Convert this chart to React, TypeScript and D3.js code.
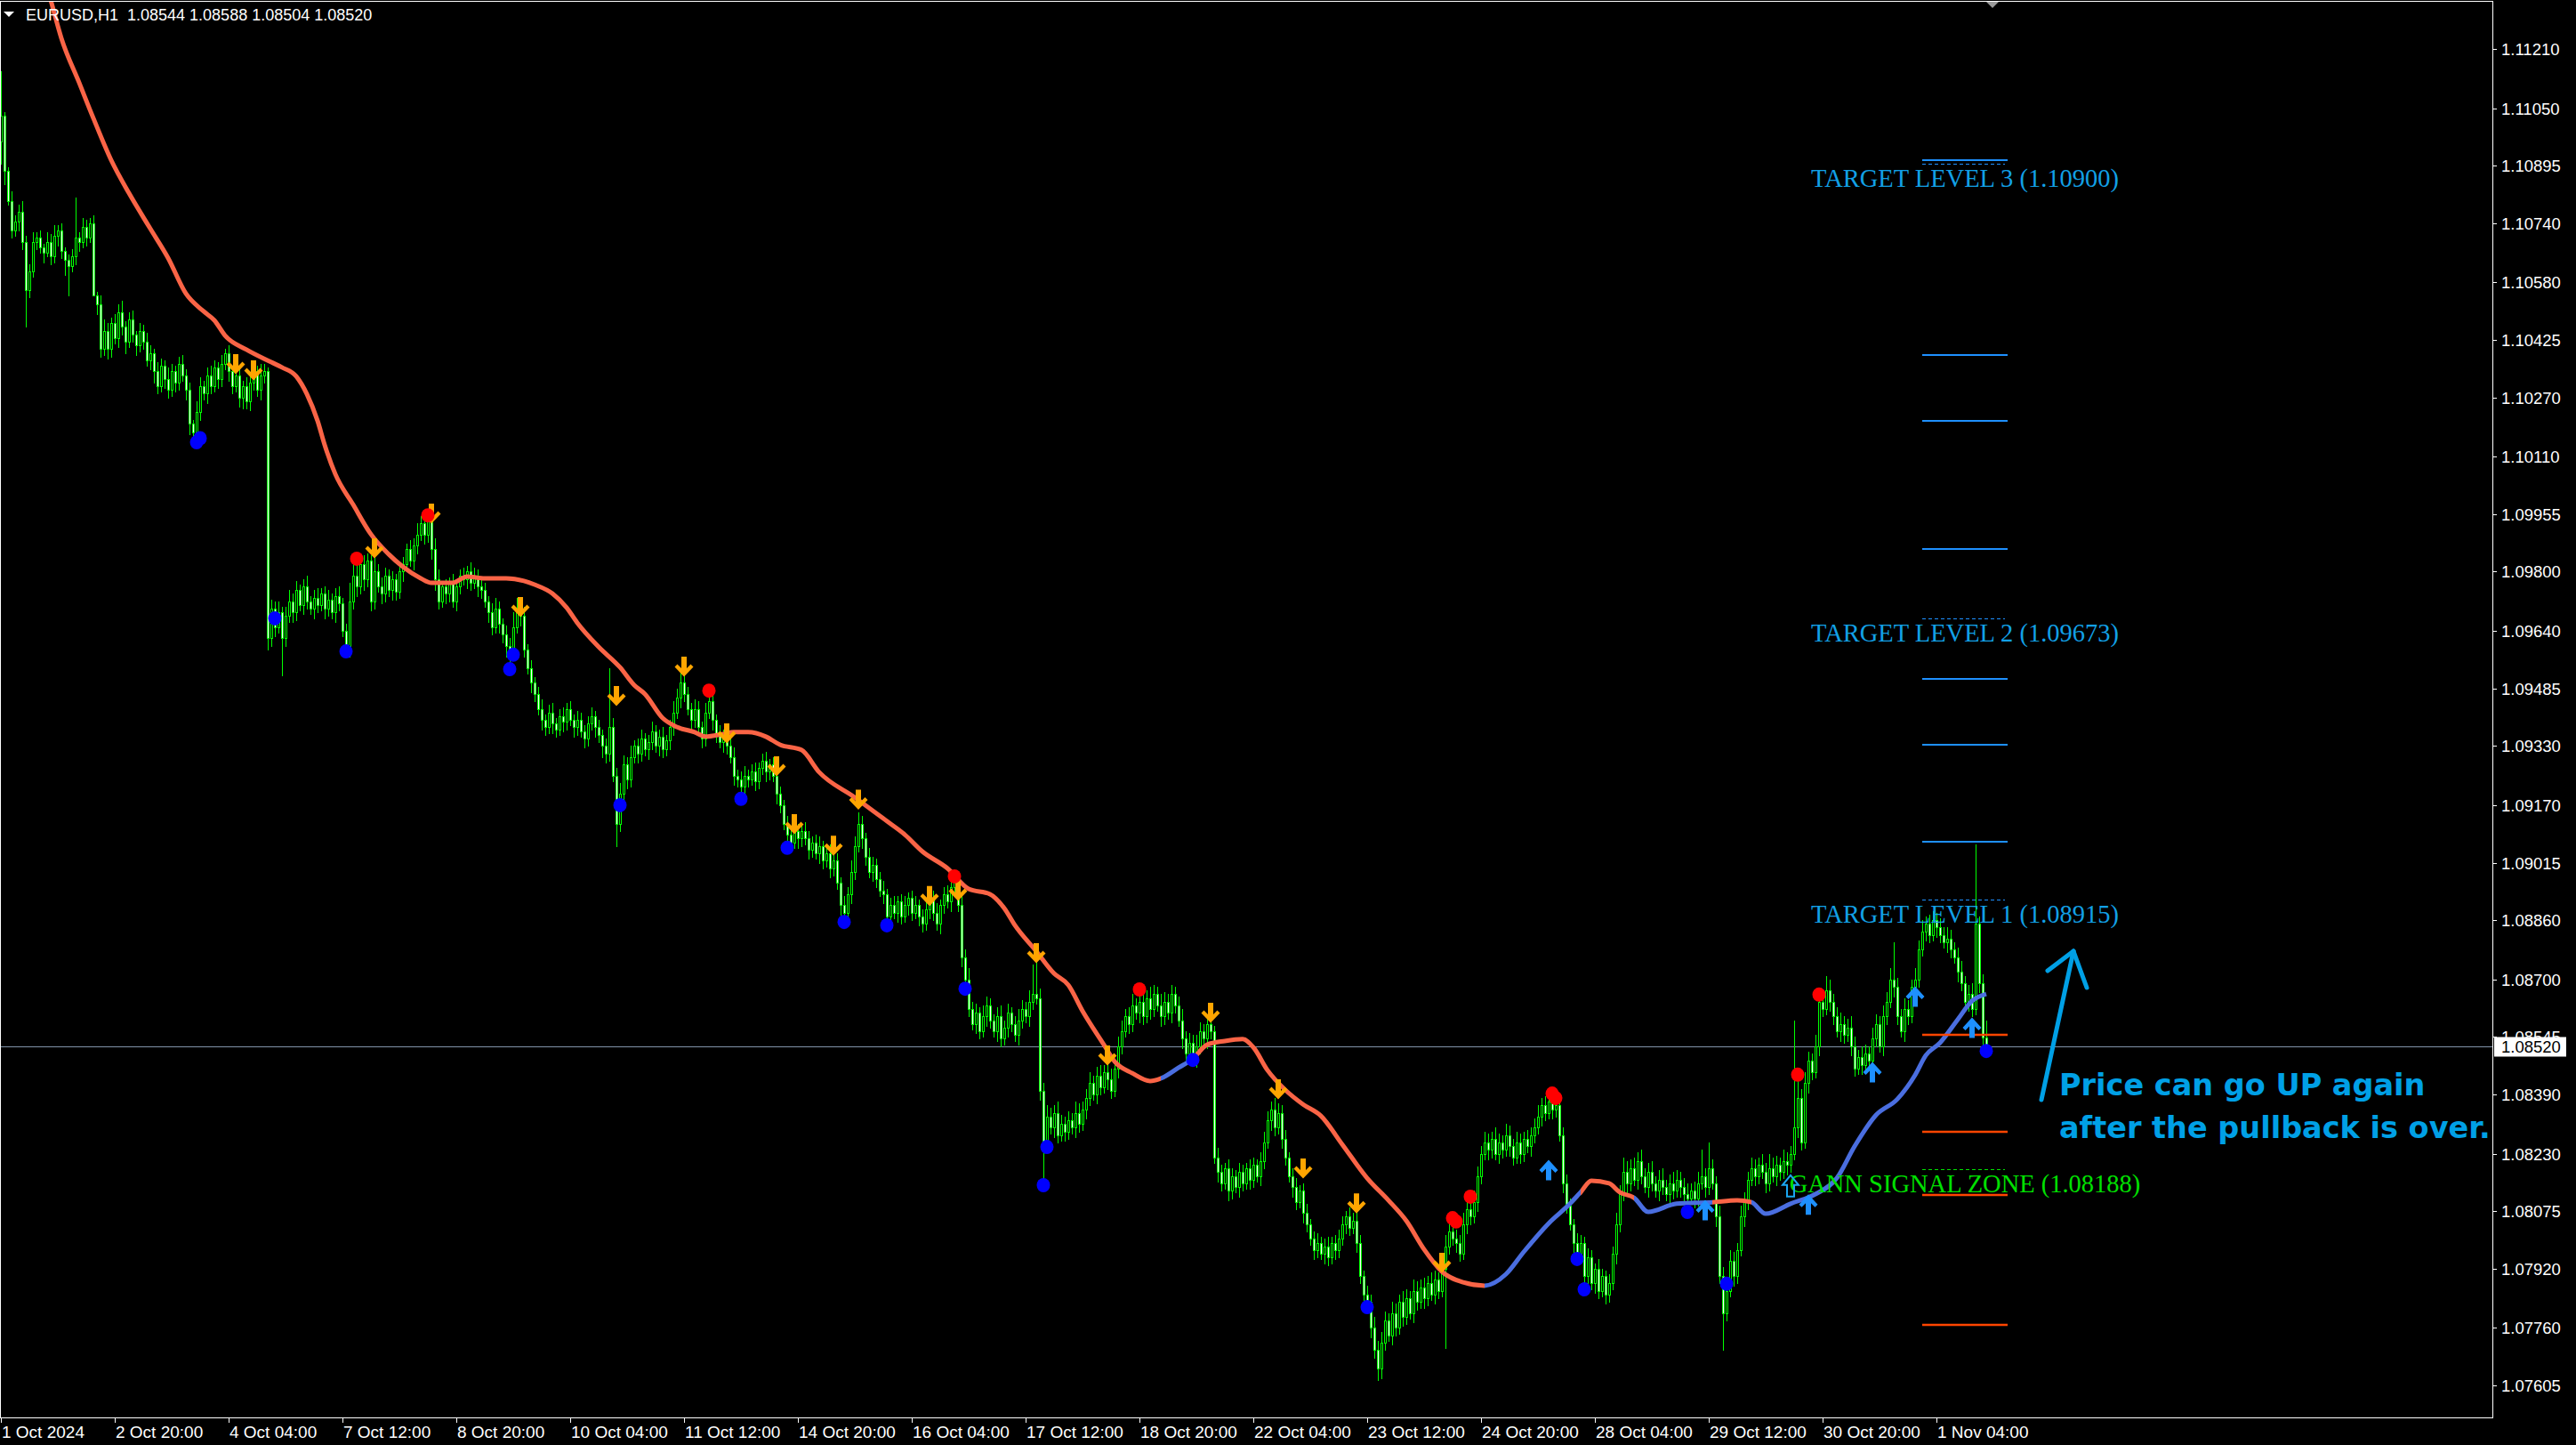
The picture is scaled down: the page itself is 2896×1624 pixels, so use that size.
import React from "react";
import * as d3 from "d3";

// ---------- DATA (prices in points: 1e-5 above 1.00000) ----------
const symbolLabel = "EURUSD,H1";
const firstOpen = 10960;
const closePts = [
  11030, 10880, 10800, 10720, 10745, 10770, 10690, 10560, 10610, 10690,
  10700, 10675, 10660, 10690, 10650, 10705, 10720, 10665, 10640, 10625,
  10650, 10700, 10690, 10730, 10700, 10740, 10545, 10520, 10400, 10450,
  10400, 10470, 10430, 10500, 10460, 10420, 10480, 10440, 10410, 10450,
  10420, 10370, 10390, 10340, 10300, 10355, 10320, 10290, 10340, 10310,
  10360, 10330, 10290, 10200, 10175, 10230, 10300, 10280, 10330, 10300,
  10350, 10320, 10360, 10390, 10340, 10300, 10330, 10270, 10300, 10260,
  10310, 10340, 10290, 10330, 10340, 9620, 9700, 9650, 9690, 9620,
  9680, 9720, 9690, 9750, 9710, 9760, 9720, 9700, 9730, 9710,
  9740, 9700, 9725, 9690, 9735, 9715, 9640, 9600, 9720, 9790,
  9760, 9820, 9780, 9830, 9720, 9800, 9760, 9740, 9790, 9750,
  9780, 9745, 9800, 9820, 9860, 9830, 9870, 9900, 9930, 9900,
  9940, 9860, 9780, 9720, 9760, 9740, 9770, 9720, 9760, 9790,
  9780, 9800, 9770, 9790, 9760, 9750, 9720, 9690, 9650, 9700,
  9660, 9630, 9600, 9580, 9650, 9700, 9680, 9590, 9540, 9500,
  9470, 9430, 9400, 9380, 9420, 9390, 9375, 9410, 9395, 9430,
  9400, 9380, 9400, 9370, 9350, 9390, 9410, 9380, 9360, 9330,
  9310, 9380, 9250, 9120, 9200, 9280, 9240, 9300, 9330, 9310,
  9350, 9320, 9340, 9370, 9330, 9355, 9320, 9345, 9380, 9420,
  9460, 9500, 9470, 9430, 9400, 9430, 9380, 9350, 9420, 9450,
  9400, 9360, 9340, 9355, 9330, 9300, 9250, 9240, 9220, 9250,
  9240, 9260, 9235, 9270, 9290, 9260, 9280, 9250, 9200, 9170,
  9120, 9090, 9070, 9100, 9080, 9100, 9080, 9050, 9070, 9040,
  9060, 9020, 9040, 9000, 9020, 8960, 8900, 8880, 8930, 8990,
  9060, 9120, 9080, 9030, 8990, 9010, 8970, 8940, 8930, 8870,
  8900, 8880, 8910, 8870, 8900, 8920, 8880, 8900, 8870, 8850,
  8890, 8920, 8880, 8850, 8900, 8930, 8910, 8950, 8960, 8900,
  8760, 8700, 8620, 8580, 8610, 8560, 8600, 8630, 8590, 8560,
  8600, 8540, 8570, 8610, 8580, 8550, 8590, 8620, 8600, 8640,
  8660, 8650, 8400, 8260, 8330, 8300, 8340, 8280, 8310, 8290,
  8320, 8300, 8340, 8310, 8350, 8380, 8420, 8390, 8440, 8410,
  8450, 8430, 8400, 8460, 8520, 8560, 8600, 8580, 8630, 8610,
  8640, 8600, 8650, 8620, 8660, 8630, 8600, 8640, 8610, 8660,
  8630, 8590, 8540, 8500, 8530, 8490, 8520, 8560, 8540, 8580,
  8560, 8220, 8180, 8150, 8190, 8130, 8170, 8140, 8180, 8150,
  8190, 8160, 8200, 8170, 8210, 8260, 8320, 8350, 8300, 8340,
  8270, 8220, 8170, 8140, 8100, 8130, 8070, 8040, 8000, 7970,
  7990, 7960, 7980, 7950, 7990, 7970, 8000, 8040, 8060, 8030,
  8050, 7990, 7900, 7850, 7830, 7760, 7700, 7650, 7720, 7780,
  7740, 7800, 7760, 7830, 7790, 7840, 7800, 7860, 7830, 7870,
  7840, 7880, 7850, 7890, 7860, 7920, 7980, 8020, 8000, 7990,
  7960, 8040, 8080, 8060, 8100, 8170, 8230, 8260, 8240, 8270,
  8230, 8260, 8240, 8280, 8250, 8220, 8260, 8230, 8270, 8250,
  8280, 8300, 8330, 8360, 8340, 8370, 8350, 8360, 8280, 8150,
  8090, 8040, 7990, 7960, 7990, 7900, 7950, 7880, 7920, 7860,
  7900, 7850, 7880, 7960, 8040, 8120, 8180, 8150, 8190, 8160,
  8210, 8170, 8140, 8180, 8150, 8130, 8160, 8140, 8120, 8150,
  8130, 8160, 8140, 8120, 8110, 8130, 8110, 8150, 8170, 8140,
  8190, 8150, 8060, 7900, 7800, 7860, 7940, 7900, 7970, 8060,
  8100, 8160, 8190, 8170, 8200, 8180, 8150, 8190, 8170, 8200,
  8180, 8210, 8200, 8230, 8300, 8380, 8260, 8420, 8480, 8450,
  8520, 8640, 8620, 8670, 8640, 8600, 8560, 8580, 8550, 8570,
  8520, 8460, 8490, 8470, 8500, 8480, 8540, 8580, 8520, 8600,
  8640, 8700, 8680, 8600, 8560, 8620, 8600, 8680, 8700, 8780,
  8830, 8850, 8820, 8860, 8840, 8820, 8800, 8810, 8780, 8760,
  8720, 8690, 8640, 8660, 8620, 8850, 8690, 8544, 8520,
];
const upWick = [
  120, 10, 10, 25, 15, 20, 30, 15, 20, 25,
  15, 20, 10, 25, 20, 30, 15, 20, 10, 15,
  20, 110, 15, 25, 20, 15, 20, 10, 25, 30,
  20, 15, 25, 20, 30, 15, 20, 25, 10, 20,
  15, 25, 20, 10, 25, 20, 15, 30, 20, 15,
  20, 25, 15, 20, 10, 30, 25, 15, 20, 25,
  20, 15, 25, 10, 20, 15, 30, 20, 15, 25,
  20, 25, 15, 30, 20, 10, 25, 20, 30, 15,
  25, 30, 20, 25, 15, 20, 30, 15, 20, 25,
  15, 20, 25, 15, 20, 25, 15, 20, 50, 40,
  60, 30, 25, 20, 15, 40, 20, 25, 20, 15,
  20, 15, 25, 20, 15, 25, 20, 30, 20, 25,
  15, 20, 30, 25, 15, 20, 15, 25, 20, 15,
  20, 15, 25, 20, 15, 25, 20, 15, 25, 30,
  20, 15, 25, 20, 40, 30, 20, 25, 15, 20,
  15, 20, 25, 15, 20, 25, 15, 20, 25, 15,
  20, 15, 25, 20, 15, 20, 25, 15, 20, 15,
  20, 160, 25, 20, 30, 25, 20, 30, 15, 20,
  25, 15, 20, 25, 15, 20, 25, 15, 20, 30,
  25, 40, 30, 20, 15, 25, 20, 15, 25, 25,
  20, 15, 25, 20, 15, 20, 25, 15, 20, 25,
  15, 20, 25, 15, 20, 25, 15, 20, 25, 20,
  15, 20, 25, 15, 20, 15, 25, 20, 15, 20,
  25, 15, 20, 25, 15, 20, 15, 25, 20, 30,
  25, 30, 20, 15, 25, 20, 15, 20, 25, 15,
  20, 25, 15, 20, 25, 15, 20, 25, 15, 20,
  25, 15, 20, 25, 15, 20, 25, 15, 18, 20,
  25, 20, 30, 20, 25, 15, 30, 25, 20, 15,
  25, 30, 20, 25, 15, 20, 30, 25, 20, 30,
  80, 90, 25, 20, 30, 25, 20, 30, 25, 20,
  25, 20, 30, 25, 20, 25, 30, 20, 25, 30,
  20, 25, 30, 20, 25, 30, 20, 25, 30, 20,
  30, 25, 20, 30, 25, 20, 30, 25, 20, 25,
  20, 25, 30, 20, 25, 20, 30, 25, 20, 25,
  20, 15, 25, 20, 15, 25, 20, 15, 25, 20,
  15, 25, 20, 15, 25, 30, 25, 20, 30, 25,
  20, 25, 15, 20, 25, 15, 20, 25, 15, 20,
  25, 15, 20, 25, 15, 20, 25, 20, 15, 25,
  20, 25, 20, 15, 25, 20, 30, 25, 30, 25,
  20, 30, 25, 20, 30, 25, 20, 30, 25, 20,
  25, 20, 30, 25, 20, 40, 30, 25, 30, 25,
  20, 30, 25, 20, 30, 25, 20, 30, 25, 20,
  30, 25, 20, 30, 25, 20, 30, 25, 20, 25,
  20, 25, 30, 20, 25, 20, 30, 20, 25, 20,
  25, 20, 15, 25, 20, 15, 25, 20, 15, 25,
  20, 15, 25, 20, 30, 25, 40, 30, 25, 30,
  25, 30, 20, 25, 30, 20, 25, 30, 20, 25,
  30, 25, 20, 25, 30, 20, 25, 30, 70, 20,
  70, 25, 20, 30, 25, 20, 30, 25, 20, 30,
  25, 20, 30, 25, 20, 30, 25, 40, 30, 25,
  20, 30, 25, 20, 290, 60, 25, 30, 25, 20,
  30, 20, 25, 40, 30, 20, 25, 30, 20, 25,
  30, 25, 20, 30, 25, 20, 30, 25, 20, 30,
  25, 30, 100, 25, 20, 30, 25, 20, 30, 25,
  30, 20, 25, 25, 20, 25, 20, 30, 25, 20,
  25, 30, 20, 25, 30, 214, 20, 25, 44,
];
const downWick = [
  60, 35, 10, 20, 15, 25, 20, 100, 20, 15,
  20, 15, 25, 10, 20, 15, 25, 20, 40, 80,
  15, 20, 25, 15, 20, 10, 0, 25, 20, 15,
  25, 20, 15, 25, 20, 30, 15, 20, 25, 15,
  20, 15, 25, 30, 20, 15, 25, 20, 15, 25,
  20, 15, 25, 30, 20, 25, 20, 15, 25, 20,
  15, 25, 20, 15, 25, 20, 15, 25, 30, 20,
  25, 20, 15, 25, 20, 30, 20, 25, 15, 100,
  20, 15, 25, 20, 15, 25, 20, 15, 25, 20,
  15, 25, 20, 15, 25, 20, 15, 15, 30, 20,
  25, 20, 30, 20, 25, 20, 15, 25, 20, 15,
  25, 20, 15, 25, 20, 15, 25, 20, 15, 25,
  20, 25, 30, 20, 15, 25, 20, 15, 25, 20,
  15, 25, 20, 15, 25, 20, 15, 25, 20, 15,
  25, 20, 30, 40, 20, 15, 25, 20, 15, 25,
  20, 15, 25, 20, 15, 25, 20, 15, 25, 20,
  15, 25, 20, 15, 25, 20, 15, 25, 20, 30,
  25, 20, 15, 60, 20, 30, 25, 20, 15, 25,
  20, 15, 25, 20, 15, 25, 20, 15, 25, 20,
  15, 25, 20, 15, 25, 20, 15, 25, 20, 15,
  25, 20, 15, 25, 20, 15, 25, 20, 15, 25,
  20, 15, 25, 20, 15, 25, 20, 15, 25, 20,
  15, 25, 20, 15, 25, 20, 15, 25, 20, 15,
  25, 20, 15, 25, 20, 15, 25, 20, 15, 25,
  20, 15, 25, 20, 15, 25, 20, 15, 25, 25,
  20, 15, 25, 20, 15, 25, 20, 15, 25, 20,
  15, 25, 20, 15, 25, 20, 15, 25, 20, 15,
  25, 25, 20, 15, 25, 20, 15, 25, 20, 15,
  25, 20, 15, 25, 20, 15, 25, 20, 15, 25,
  20, 15, 25, 110, 20, 15, 25, 20, 15, 25,
  20, 15, 25, 20, 15, 25, 20, 15, 25, 20,
  15, 25, 20, 15, 25, 20, 15, 25, 20, 15,
  25, 20, 15, 25, 20, 15, 25, 20, 15, 25,
  20, 15, 25, 20, 15, 10, 25, 20, 15, 25,
  20, 15, 25, 20, 15, 25, 20, 15, 25, 20,
  15, 25, 20, 15, 25, 20, 15, 25, 20, 15,
  25, 20, 15, 25, 20, 15, 25, 20, 15, 25,
  20, 15, 25, 20, 15, 25, 20, 15, 25, 20,
  15, 25, 20, 15, 20, 25, 20, 30, 25, 20,
  15, 25, 20, 15, 25, 20, 15, 25, 20, 15,
  25, 20, 15, 25, 20, 15, 214, 20, 15, 25,
  20, 15, 25, 20, 15, 25, 20, 15, 25, 20,
  15, 25, 20, 15, 25, 20, 15, 25, 20, 15,
  25, 20, 15, 25, 20, 15, 25, 20, 15, 25,
  20, 15, 25, 15, 20, 40, 20, 15, 25, 20,
  15, 25, 20, 15, 25, 20, 15, 25, 20, 15,
  25, 20, 15, 25, 20, 15, 25, 20, 15, 25,
  20, 15, 25, 20, 30, 15, 25, 20, 15, 25,
  20, 15, 25, 20, 100, 20, 15, 25, 20, 15,
  25, 20, 15, 25, 20, 15, 25, 20, 15, 25,
  20, 15, 25, 20, 15, 25, 20, 15, 25, 20,
  15, 25, 20, 15, 25, 20, 15, 25, 20, 15,
  25, 20, 15, 25, 20, 15, 25, 20, 15, 25,
  20, 15, 25, 20, 15, 25, 20, 15, 25, 20,
  15, 25, 20, 15, 25, 20, 15, 25, 20, 15,
  25, 20, 15, 25, 20, 15, 25, 20, 16,
];

// Trend line (bar index, price points)
const maBars = [10, 14, 17, 22, 26, 31, 36, 42, 47, 52, 57, 60, 63, 69, 76, 79, 83, 86, 89, 91, 94, 99, 104, 109, 113, 118, 121, 127, 131, 136, 142, 147, 150, 155, 159, 162, 168, 174, 178, 181, 186, 190, 195, 198, 203, 206, 210, 215, 219, 225, 230, 240, 249, 254, 259, 266, 272, 278, 282, 285, 291, 296, 300, 304, 310, 313, 318, 323, 326, 331, 335, 339, 344, 349, 352, 356, 361, 366, 371, 377, 384, 390, 395, 400, 405, 411, 417, 423, 428, 435, 441, 444, 447, 452, 455, 459, 463, 471, 481, 488, 492, 496, 503, 510, 516, 521, 527, 533, 538, 541, 545, 550, 554, 558];
const maValues = [11476, 11342, 11239, 11119, 11023, 10910, 10821, 10725, 10646, 10550, 10502, 10478, 10437, 10399, 10365, 10351, 10327, 10279, 10207, 10142, 10063, 9981, 9901, 9847, 9813, 9782, 9770, 9770, 9787, 9782, 9782, 9775, 9765, 9741, 9703, 9662, 9597, 9542, 9494, 9470, 9405, 9381, 9367, 9355, 9362, 9367, 9367, 9355, 9333, 9319, 9259, 9191, 9127, 9091, 9045, 9000, 8944, 8930, 8892, 8846, 8776, 8716, 8685, 8615, 8524, 8479, 8447, 8426, 8433, 8462, 8486, 8524, 8534, 8539, 8517, 8455, 8402, 8363, 8332, 8255, 8164, 8104, 8049, 7972, 7912, 7883, 7874, 7905, 7965, 8042, 8095, 8126, 8157, 8150, 8126, 8111, 8073, 8095, 8099, 8104, 8099, 8068, 8095, 8121, 8164, 8250, 8334, 8377, 8442, 8495, 8529, 8592, 8642, 8661];
// trend switches: [fromBar, toBar, direction]
const maTrend: [number, number, string][] = [
  [0, 326, "down"], [326, 335, "up"], [335, 417, "down"], [417, 444, "up"],
  [444, 459, "down"], [459, 481, "up"], [481, 492, "down"], [492, 560, "up"],
];

// signal markers: bar index + price points
const sellArrowBars = [66, 71, 105, 121, 146, 173, 192, 204, 218, 223, 234, 241, 261, 269, 291, 311, 340, 359, 366, 381, 405];
const sellArrowPrices = [10358, 10341, 9861, 9955, 9703, 9463, 9542, 9362, 9273, 9117, 9059, 9183, 8923, 8937, 8769, 8493, 8608, 8402, 8188, 8094, 7934];
const buyArrowBars = [435, 479, 508, 526, 538, 554];
const buyArrowPrices = [8188, 8080, 8095, 8452, 8656, 8572];
const hollowArrowBars = [503];
const hollowArrowPrices = [8143];
const redDotBars = [100, 120, 199, 268, 320, 408, 409, 413, 436, 437, 505, 511];
const redDotPrices = [9835, 9952, 9479, 8978, 8673, 8056, 8047, 8114, 8392, 8380, 8443, 8659];
const blueDotBars = [55, 56, 77, 97, 143, 144, 174, 208, 221, 237, 249, 271, 293, 294, 335, 384, 443, 445, 474, 485, 558];
const blueDotPrices = [10149, 10160, 9674, 9585, 9537, 9576, 9170, 9187, 9055, 8855, 8846, 8675, 8145, 8248, 8483, 7816, 7946, 7864, 8073, 7879, 8507];

// Gann levels
const blueLevelPrices = [10910, 10384, 10207, 9861, 9511, 9333, 9071];
const redLevelPrices = [8551, 8289, 8119, 7768];
const targetNames = ["TARGET LEVEL 3", "TARGET LEVEL 2", "TARGET LEVEL 1", "GANN SIGNAL ZONE"];
const targetPrices = [10900, 9673, 8915, 8188];
const levelFromBar = 540;
const levelToBar = 564;

// axes
const yTickLabels = ["1.11210", "1.11050", "1.10895", "1.10740", "1.10580", "1.10425", "1.10270", "1.10110", "1.09955", "1.09800", "1.09640", "1.09485", "1.09330", "1.09170", "1.09015", "1.08860", "1.08700", "1.08545", "1.08390", "1.08230", "1.08075", "1.07920", "1.07760", "1.07605"];
const xTickLabels = ["1 Oct 2024", "2 Oct 20:00", "4 Oct 04:00", "7 Oct 12:00", "8 Oct 20:00", "10 Oct 04:00", "11 Oct 12:00", "14 Oct 20:00", "16 Oct 04:00", "17 Oct 12:00", "18 Oct 20:00", "22 Oct 04:00", "23 Oct 12:00", "24 Oct 20:00", "28 Oct 04:00", "29 Oct 12:00", "30 Oct 20:00", "1 Nov 04:00"];
const barsPerXTick = 32;
const noteLines = ["Price can go UP again", "after the pullback is over."];

// ---------- RENDER ----------
const W = 2896;
const H = 1624;
const PR = 2802; // plot right
const PB = 1593; // plot bottom
const LIME = "#00ff00";
const UIFONT = "'Liberation Sans', Arial, sans-serif";

const fmt = (p: number) => (1 + p / 1e5).toFixed(5);

const downArrowPath = "M-3,-12 H3 V1 L7.5,-3.5 L10.5,-0.5 L0,10.5 L-10.5,-0.5 L-7.5,-3.5 L-3,1 Z";
const upArrowPath = "M-3,12.5 H3 V-0.5 L7.5,4 L10.5,1 L0,-10.5 L-10.5,1 L-7.5,4 L-3,-0.5 Z";
const hollowUpPath = "M0,-12 L9,-1 L4,-1 L4,12 L-4,12 L-4,-1 L-9,-1 Z";

export default function App() {
  const x = d3.scaleLinear().domain([0, 700]).range([1, 2801]);
  const y = d3.scaleLinear().domain([7605, 11210]).range([1557, 55]);

  const bars = closePts.map((c, i) => {
    const o = i === 0 ? firstOpen : closePts[i - 1];
    const h = Math.max(o, c) + (upWick[i] ?? 15);
    const l = Math.min(o, c) - (downWick[i] ?? 15);
    return { i, o, h, l, c };
  });
  const last = bars[bars.length - 1];

  const maPts: [number, number][] = maBars.map((b, k) => [b, maValues[k]]);
  const line = d3
    .line<[number, number]>()
    .x((d) => x(d[0]))
    .y((d) => y(d[1]))
    .curve(d3.curveMonotoneX);
  const maPath = line(maPts) || "";

  const lx1 = x(levelFromBar);
  const lx2 = x(levelToBar);
  const lxm = (lx1 + lx2) / 2;
  const yCur = Math.round(y(last.c)) + 0.5;

  return (
    <svg
      width={W}
      height={H}
      style={{ position: "absolute", left: 0, top: 0, display: "block" }}
      xmlns="http://www.w3.org/2000/svg"
    >
      <defs>
        <clipPath id="plot">
          <rect x={1} y={2} width={PR - 1} height={PB - 2} />
        </clipPath>
        {maTrend.map((s, k) => (
          <clipPath id={`seg${k}`} key={k}>
            <rect x={x(s[0])} y={0} width={x(s[1]) - x(s[0])} height={H} />
          </clipPath>
        ))}
      </defs>
      <rect x={0} y={0} width={W} height={H} fill="#000" />

      {/* current price line */}
      <line x1={1} x2={PR} y1={yCur} y2={yCur} stroke="#8193a8" strokeWidth={1} />

      <g clipPath="url(#plot)" shapeRendering="crispEdges">
        {bars.map((b) => {
          const cx = Math.round(x(b.i));
          const yo = Math.round(y(b.o));
          const yc = Math.round(y(b.c));
          const top = Math.min(yo, yc);
          const bot = Math.max(yo, yc);
          return (
            <g key={b.i}>
              <line x1={cx + 0.5} x2={cx + 0.5} y1={Math.round(y(b.h))} y2={Math.round(y(b.l)) + 1} stroke={LIME} strokeWidth={1} />
              {bot - top >= 1 ? (
                <rect x={cx - 0.5} y={top + 0.5} width={2} height={bot - top} fill={b.c < b.o ? "#ffffff" : "#000000"} stroke={LIME} strokeWidth={1} />
              ) : (
                <line x1={cx - 1} x2={cx + 2} y1={top + 0.5} y2={top + 0.5} stroke={LIME} strokeWidth={1} />
              )}
            </g>
          );
        })}
      </g>

      {/* trend line */}
      <g clipPath="url(#plot)">
        {maTrend.map((s, k) => (
          <g key={k} clipPath={`url(#seg${k})`}>
            <path d={maPath} fill="none" stroke={s[2] === "down" ? "#fa6446" : "#4a6ee0"} strokeWidth={5} strokeLinejoin="round" />
          </g>
        ))}
      </g>

      {/* level lines */}
      {blueLevelPrices.map((p, k) => (
        <line key={`bl${k}`} x1={lx1} x2={lx2} y1={Math.round(y(p))} y2={Math.round(y(p))} stroke="#1e90ff" strokeWidth={2} />
      ))}
      {redLevelPrices.map((p, k) => (
        <line key={`rl${k}`} x1={lx1} x2={lx2} y1={Math.round(y(p))} y2={Math.round(y(p))} stroke="#ff4500" strokeWidth={2.5} />
      ))}
      {targetPrices.map((p, k) => {
        const isZone = k === targetPrices.length - 1;
        const col = isZone ? "#00e000" : "#12a0e6";
        const yy = Math.round(y(p)) + 0.5;
        return (
          <g key={`tl${k}`}>
            <line x1={lx1} x2={lx2 - 3} y1={yy} y2={yy} stroke={isZone ? "#00e000" : "#1e90ff"} strokeWidth={1} strokeDasharray="4 3" />
            <text x={lxm} y={yy + 25} fill={col} fontFamily="'Liberation Serif', 'Times New Roman', serif" fontSize={28.5} textAnchor="middle">
              {`${targetNames[k]} (${fmt(p)})`}
            </text>
          </g>
        );
      })}

      {/* markers */}
      <g clipPath="url(#plot)">
        {sellArrowBars.map((b, k) => (
          <path key={`sa${k}`} d={downArrowPath} transform={`translate(${x(b)},${y(sellArrowPrices[k])})`} fill="#ffa500" />
        ))}
        {buyArrowBars.map((b, k) => (
          <path key={`ba${k}`} d={upArrowPath} transform={`translate(${x(b)},${y(buyArrowPrices[k])})`} fill="#1e90ff" />
        ))}
        {hollowArrowBars.map((b, k) => (
          <path key={`ha${k}`} d={hollowUpPath} transform={`translate(${x(b)},${y(hollowArrowPrices[k])})`} fill="none" stroke="#1aa6f0" strokeWidth={2} />
        ))}
        {redDotBars.map((b, k) => (
          <ellipse key={`rd${k}`} cx={x(b)} cy={y(redDotPrices[k])} rx={7.5} ry={8} fill="#ff0000" />
        ))}
        {blueDotBars.map((b, k) => (
          <ellipse key={`bd${k}`} cx={x(b)} cy={y(blueDotPrices[k])} rx={7.5} ry={8} fill="#0000ff" />
        ))}
      </g>

      {/* annotation */}
      <g stroke="#00a0e6" strokeWidth={5} strokeLinecap="round" fill="none">
        <line x1={2295} y1={1236} x2={2331} y2={1069} />
        <line x1={2331} y1={1069} x2={2302} y2={1091} />
        <line x1={2331} y1={1069} x2={2346} y2={1110} />
      </g>
      {noteLines.map((t, k) => (
        <text key={`n${k}`} x={2315} y={1231 + k * 48} fill="#00a0e6" fontFamily="'DejaVu Sans', Verdana, sans-serif" fontWeight="bold" fontSize={33.5}>
          {t}
        </text>
      ))}

      {/* frame */}
      <rect x={0.5} y={1.5} width={PR} height={PB - 1} fill="none" stroke="#ffffff" strokeWidth={1} shapeRendering="crispEdges" />
      <path d="M2233,2 L2247,2 L2240,9 Z" fill="#9a9a9a" />

      {/* y axis */}
      {yTickLabels.map((s, k) => {
        const yy = Math.round(y(Math.round((parseFloat(s) - 1) * 1e5))) + 0.5;
        return (
          <g key={`yt${k}`}>
            <line x1={PR} x2={PR + 5} y1={yy} y2={yy} stroke="#ffffff" shapeRendering="crispEdges" />
            <text x={2812} y={yy} dominantBaseline="central" fill="#ffffff" fontFamily={UIFONT} fontSize={18.5}>
              {s}
            </text>
          </g>
        );
      })}
      <rect x={2804} y={yCur - 11} width={81} height={22} fill="#ffffff" />
      <text x={2812} y={yCur} dominantBaseline="central" fill="#000000" fontFamily={UIFONT} fontSize={18.5}>
        {fmt(last.c)}
      </text>

      {/* x axis */}
      {xTickLabels.map((s, k) => {
        const xx = Math.round(x(k * barsPerXTick)) + 0.5;
        return (
          <g key={`xt${k}`}>
            <line x1={xx} x2={xx} y1={PB} y2={PB + 6} stroke="#ffffff" shapeRendering="crispEdges" />
            <text x={xx + 0.5} y={1616} fill="#ffffff" fontFamily={UIFONT} fontSize={19}>
              {s}
            </text>
          </g>
        );
      })}

      {/* header */}
      <path d="M4,13 L16,13 L10,19 Z" fill="#ffffff" />
      <text x={29} y={23} fill="#ffffff" fontFamily={UIFONT} fontSize={18} style={{ whiteSpace: "pre" }}>
        {`${symbolLabel}  ${fmt(last.o)} ${fmt(last.h)} ${fmt(last.l)} ${fmt(last.c)}`}
      </text>
    </svg>
  );
}
